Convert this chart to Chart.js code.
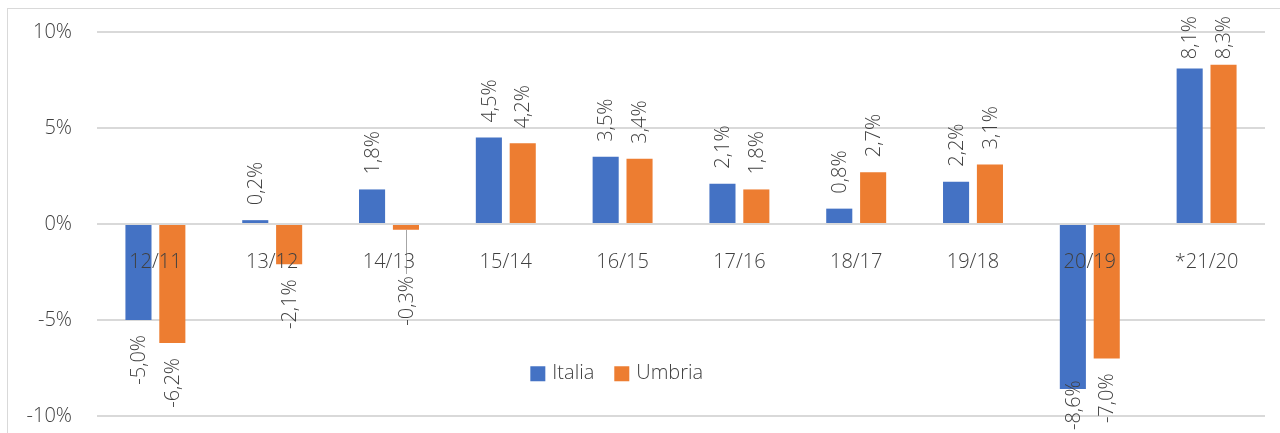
<!DOCTYPE html>
<html>
<head>
<meta charset="utf-8">
<script src="https://cdn.jsdelivr.net/npm/chart.js@4.4.1/dist/chart.umd.min.js"></script>
<style>
  html, body { margin: 0; padding: 0; background: #fff; overflow: hidden; }
  #wrap { position: relative; width: 1280px; height: 433px; overflow: hidden; }
  #frame { position: absolute; left: 7px; top: 8px; width: 1300px; height: 500px; border: 1px solid #d9d9d9; box-sizing: border-box; }
  canvas { position: absolute; left: 0; top: -5px; }
</style>
</head>
<body>
<div id="wrap">
  <div id="frame"></div>
  <canvas id="c" width="1280" height="458"></canvas>
</div>
<script>
const categories = ['12/11', '13/12', '14/13', '15/14', '16/15', '17/16', '18/17', '19/18', '20/19', '*21/20'];
const italia = [-5.0, 0.2, 1.8, 4.5, 3.5, 2.1, 0.8, 2.2, -8.6, 8.1];
const umbria = [-6.2, -2.1, -0.3, 4.2, 3.4, 1.8, 2.7, 3.1, -7.0, 8.3];
const seriesNames = ['Italia', 'Umbria'];
const seriesColors = ['#4472C4', '#ED7D31'];
const yTicks = [-10, -5, 0, 5, 10];

const FONT = '"Open Sans", "Segoe UI", sans-serif';
const TXT = '#404040';
const fmt = v => v.toFixed(1).replace('.', ',') + '%';

const labelPlugin = {
  id: 'valueLabels',
  afterDatasetsDraw(chart) {
    const ctx = chart.ctx;
    const a = chart.chartArea;
    const y = chart.scales.y;
    const zero = y.getPixelForValue(0);
    ctx.save();
    ctx.font = '300 20px ' + FONT;
    ctx.fillStyle = TXT;
    ctx.textBaseline = 'middle';
    chart.data.datasets.forEach((ds, di) => {
      const meta = chart.getDatasetMeta(di);
      meta.data.forEach((bar, i) => {
        const v = ds.data[i];
        const t = fmt(v);
        const w = ctx.measureText(t).width;
        const x = bar.x + 1;
        if (v >= 0) {
          let end = bar.y - 15;
          if (end - w < a.top - 16) end = a.top - 16 + w;
          ctx.save();
          ctx.translate(x, end);
          ctx.rotate(-Math.PI / 2);
          ctx.textAlign = 'left';
          ctx.fillText(t, 0, 0);
          ctx.restore();
        } else {
          const natural = bar.y + 15;
          let start = Math.max(natural, zero + 52);
          if (start + w > a.bottom + 14) start = a.bottom + 14 - w;
          if (start - natural > 10) {
            ctx.save();
            ctx.strokeStyle = '#a6a6a6';
            ctx.lineWidth = 1;
            ctx.beginPath();
            ctx.moveTo(Math.round(bar.x) + 0.5, bar.y);
            ctx.lineTo(Math.round(bar.x) + 0.5, start - 2);
            ctx.stroke();
            ctx.restore();
          }
          ctx.save();
          ctx.translate(x, start);
          ctx.rotate(-Math.PI / 2);
          ctx.textAlign = 'right';
          ctx.fillText(t, 0, 0);
          ctx.restore();
        }
      });
    });
    ctx.restore();
  }
};

const legendPlugin = {
  id: 'innerLegend',
  afterDraw(chart) {
    const ctx = chart.ctx;
    const a = chart.chartArea;
    const cy = chart.scales.y.getPixelForValue(-7.8);
    let x = a.left + (a.right - a.left) * 0.371;
    ctx.save();
    ctx.font = '300 20px ' + FONT;
    ctx.textBaseline = 'middle';
    ctx.textAlign = 'left';
    chart.data.datasets.forEach((ds, i) => {
      ctx.fillStyle = ds.backgroundColor;
      ctx.fillRect(x, cy - 7.5, 15, 15);
      ctx.fillStyle = TXT;
      ctx.fillText(ds.label, x + 22, cy);
      x += 22 + ctx.measureText(ds.label).width + 20;
    });
    ctx.restore();
  }
};

new Chart(document.getElementById('c'), {
  type: 'bar',
  data: {
    labels: categories,
    datasets: [
      { label: seriesNames[0], data: italia, backgroundColor: seriesColors[0], categoryPercentage: 0.58, barPercentage: 0.77 },
      { label: seriesNames[1], data: umbria, backgroundColor: seriesColors[1], categoryPercentage: 0.58, barPercentage: 0.77 }
    ]
  },
  options: {
    responsive: false,
    animation: false,
    devicePixelRatio: 1,
    layout: { padding: { top: 27, right: 15, bottom: 17, left: 0 } },
    plugins: { legend: { display: false }, tooltip: { enabled: false }, title: { display: false } },
    scales: {
      x: {
        position: { y: 0 },
        grid: { display: false, drawTicks: false },
        border: { display: false },
        ticks: { z: 1, color: TXT, font: { family: FONT, size: 20, weight: '300' }, padding: 26, maxRotation: 0, autoSkip: false }
      },
      y: {
        min: -10, max: 10,
        afterBuildTicks: s => { s.ticks = yTicks.map(v => ({ value: v })); },
        afterFit: s => { s.width = 97; },
        grid: { color: '#d9d9d9', lineWidth: 2, drawTicks: false },
        border: { display: false },
        ticks: { color: TXT, font: { family: FONT, size: 20, weight: '300' }, padding: 25, callback: v => v + '%' }
      }
    }
  },
  plugins: [labelPlugin, legendPlugin]
});
</script>
</body>
</html>
